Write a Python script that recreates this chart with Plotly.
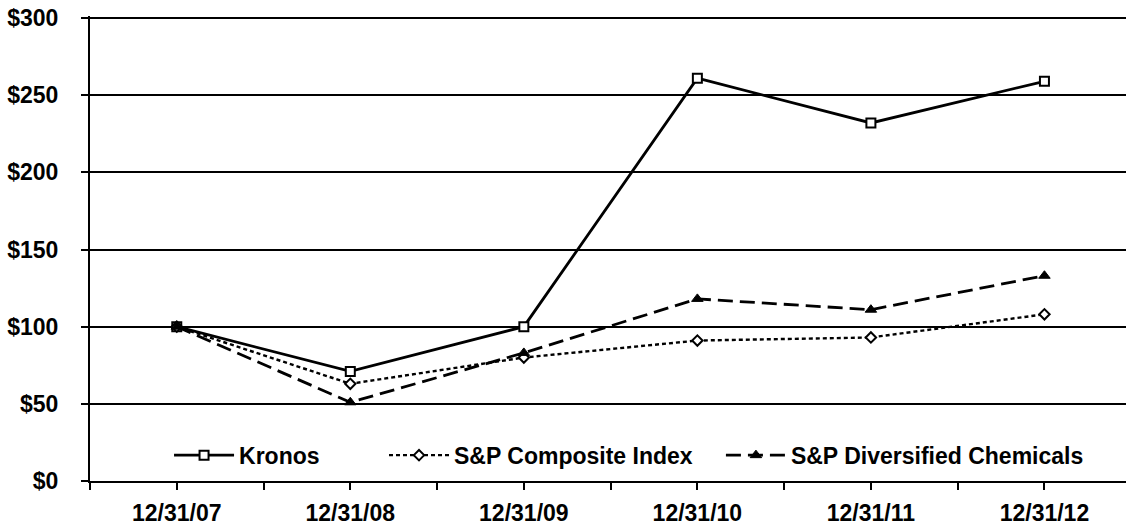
import plotly.graph_objects as go

dates = ["12/31/07", "12/31/08", "12/31/09", "12/31/10", "12/31/11", "12/31/12"]
kronos = [100, 71, 100, 261, 232, 259]
sp_composite = [100, 63, 80, 91, 93, 108]
sp_chemicals = [100, 51, 83, 118, 111, 133]
y_ticks = [0, 50, 100, 150, 200, 250, 300]
y_labels = ["$" + str(v) for v in y_ticks]

xs = list(range(len(dates)))
FONT = "Liberation Sans, Arial, sans-serif"
FS = 23

fig = go.Figure()
fig.add_trace(go.Scatter(
    x=xs, y=kronos, name="Kronos", mode="lines+markers", legend="legend",
    line=dict(color="black", width=2.8),
    marker=dict(symbol="square", size=9, color="white", line=dict(color="black", width=2)),
))
fig.add_trace(go.Scatter(
    x=xs, y=sp_composite, name="S&P Composite Index", mode="lines+markers", legend="legend2",
    line=dict(color="black", width=2.4, dash="4px,3px"),
    marker=dict(symbol="diamond", size=8, color="white", line=dict(color="black", width=2)),
))
fig.add_trace(go.Scatter(
    x=xs, y=sp_chemicals, name="S&P Diversified Chemicals", mode="lines+markers", legend="legend3",
    line=dict(color="black", width=2.8, dash="15px,7px"),
    marker=dict(symbol="triangle-up", size=10, color="black", line=dict(color="black", width=1)),
))

# ticks every half-category, labels only at categories
tickvals = []
ticktext = []
for i, d in enumerate(dates):
    tickvals.append(i - 0.5)
    ticktext.append("")
    tickvals.append(i)
    ticktext.append(d)
tickvals.append(len(dates) - 0.5)
ticktext.append("")

legend_font = dict(family=FONT, size=FS, color="black", weight="bold")
def leg(x, w):
    return dict(orientation="h", x=x, y=0.0555, xanchor="left", yanchor="middle",
                bgcolor="rgba(0,0,0,0)", font=legend_font, itemwidth=w)

fig.update_layout(
    width=1126, height=525,
    margin=dict(l=90, r=0, t=16, b=44, autoexpand=False),
    paper_bgcolor="white", plot_bgcolor="white",
    font=dict(family=FONT, size=FS, color="black"),
    showlegend=True,
    legend=leg(0.0763, 60),
    legend2=leg(0.2838, 60),
    legend3=leg(0.609, 60),
    xaxis=dict(
        range=[-0.5, 5.47], tickmode="array", tickvals=tickvals, ticktext=ticktext,
        showgrid=False, zeroline=False, showline=True, linecolor="black", linewidth=2,
        ticks="outside", ticklen=7, tickwidth=1.5, tickcolor="black",
        tickfont=dict(family=FONT, size=FS, color="black", weight="bold"),
        ticklabelstandoff=3, automargin=False, ticklabeloverflow="allow",
    ),
    yaxis=dict(
        range=[0, 301.3], tickmode="array", tickvals=y_ticks, ticktext=y_labels,
        showgrid=True, gridcolor="black", gridwidth=1.5, zeroline=False,
        showline=True, linecolor="black", linewidth=2,
        ticks="outside", ticklen=7, tickwidth=1.5, tickcolor="black",
        tickfont=dict(family=FONT, size=FS, color="black", weight="bold"),
        ticklabelstandoff=18, automargin=False, ticklabeloverflow="allow",
    ),
)

fig.write_html(
    "out.html",
    config={"displayModeBar": False},
    post_script="document.body.style.margin='0';document.body.style.padding='0';",
)
